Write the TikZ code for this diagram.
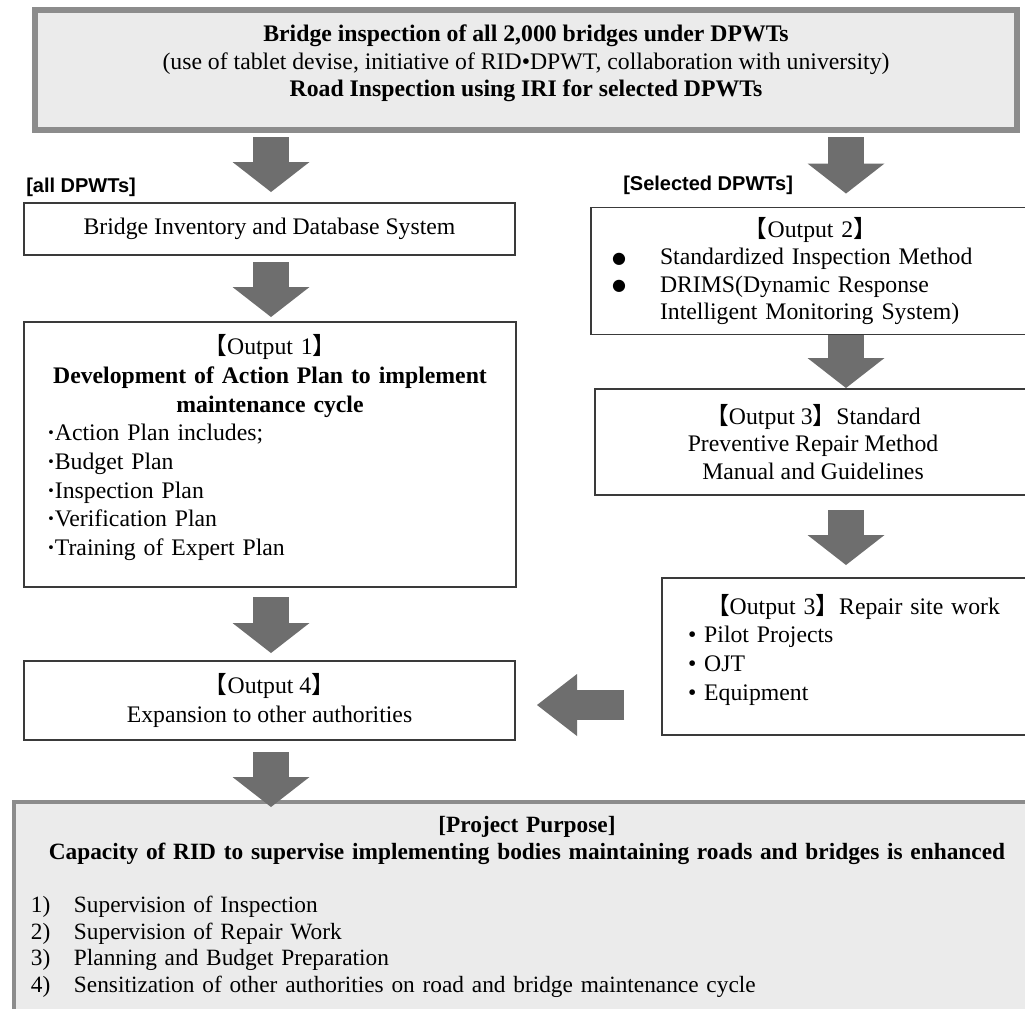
\documentclass[tikz,border=0pt]{standalone}
\usepackage{fontspec}
\setmainfont{Liberation Serif}
\newfontfamily\labelfont{Liberation Sans}
\newfontfamily\cjkfont{Noto Sans CJK JP}
\newfontfamily\symfont{DejaVu Sans}
\usetikzlibrary{arrows.meta,calc}

\definecolor{edgegrey}{HTML}{8C8C8C}
\definecolor{fillgrey}{HTML}{EBEBEB}
\definecolor{arrowgrey}{HTML}{6E6E6E}
\definecolor{boxline}{HTML}{3A3A3A}

\newcommand{\outtag}[1]{{\cjkfont 【}Output #1{\cjkfont 】}}
\newcommand{\dropby}[1]{\rule[-#1]{0pt}{#1}}
\newcommand{\bigdot}{\makebox[36pt][l]{\raisebox{1pt}{\symfont\fontsize{12}{12}\selectfont ●}}}
\newcommand{\plandot}{\textbf{·}}

\begin{document}
\begin{tikzpicture}[x=0.75pt,y=-0.75pt]
    \tikzset{
        box/.style={draw=boxline, line width=1.1pt, fill=white, inner sep=0pt, outer sep=0pt,
                    font=\fontsize{17.8}{21.5}\selectfont},
        greybox/.style={box, draw=edgegrey, fill=fillgrey},
        grouplabel/.style={anchor=west, inner sep=0pt, font=\labelfont\bfseries\fontsize{15}{18}\selectfont},
        blockarrow/.style={draw=arrowgrey, line width=27pt,
                           -{Triangle[length=22.5pt, width=57.75pt, line width=0pt]}},
        sidearrow/.style={draw=arrowgrey, line width=22.5pt,
                          -{Triangle[length=30pt, width=46.5pt, line width=0pt]}}
    }
    \useasboundingbox (0,0) rectangle (1025,1008);
    \clip (0,0) rectangle (1025,1008);
    \fill[white] (0,0) rectangle (1025,1008);

    \coordinate (lcol) at (271,0);
    \coordinate (rcol) at (846,0);

    \node[greybox, line width=4.5pt, minimum width=736.5pt, minimum height=90pt, align=center,
          font=\fontsize{17.8}{20.6}\selectfont] (insp) at (526,70)
        {\textbf{Bridge inspection of all 2,000 bridges under DPWTs}\\
         (use of tablet devise, initiative of RID•DPWT, collaboration with university)\\
         \textbf{Road Inspection using IRI for selected DPWTs}\dropby{14pt}};

    \node[grouplabel] (alllbl) at (26,187) {[all DPWTs]};
    \node[grouplabel] (sellbl) at (623,185) {[Selected DPWTs]};

    % left column
    \node[box, minimum width=368.25pt, minimum height=39pt] (inv) at (269.5,229)
        {Bridge Inventory and Database System};
    \node[box, minimum width=369pt, minimum height=198.75pt, text width=334.5pt, align=left] (out1) at (270,454.5)
        {{\centering\outtag{1}\\
          \textbf{Development of Action Plan to implement}\\
          \textbf{maintenance cycle}\par}
         \plandot Action Plan includes;\\
         \plandot Budget Plan\\
         \plandot Inspection Plan\\
         \plandot Verification Plan\\
         \plandot Training of Expert Plan\dropby{14pt}};
    \node[box, minimum width=368.25pt, minimum height=59.25pt, align=center] (out4) at (269.5,700.5)
        {\outtag{4}\\ Expansion to other authorities};

    % right column
    \node[box, minimum width=329.25pt, minimum height=95.25pt, text width=297.75pt, align=left,
          font=\fontsize{17.8}{20.5}\selectfont] (out2) at (810.5,271)
        {{\centering\outtag{2}\par}
         \bigdot Standardized Inspection Method\\
         \bigdot DRIMS(Dynamic Response\\
         \hspace*{36pt}Intelligent Monitoring System)};
    \node[box, minimum width=327pt, minimum height=79.5pt, align=center,
          font=\fontsize{17.8}{20.3}\selectfont] (out3) at (813,442)
        {\outtag{3}Standard\\ Preventive Repair Method\\ Manual and Guidelines};
    \node[box, minimum width=286.5pt, minimum height=117.75pt, text width=247.5pt, align=left] (out3b) at (853,656.5)
        {{\centering\outtag{3}Repair site work\par}
         • Pilot Projects\\
         • OJT\\
         • Equipment\dropby{14pt}};

    % purpose
    \node[greybox, line width=3pt, minimum width=769.5pt, minimum height=157.5pt, text width=744pt, align=left,
          font=\fontsize{17.5}{20}\selectfont] (purpose) at (527,907)
        {{\centering\textbf{[Project Purpose]}\\
          \textbf{Capacity of RID to supervise implementing bodies maintaining roads and bridges is enhanced}\par}
         \vspace{20pt}
         \makebox[32.25pt][l]{1)}Supervision of Inspection\\
         \makebox[32.25pt][l]{2)}Supervision of Repair Work\\
         \makebox[32.25pt][l]{3)}Planning and Budget Preparation\\
         \makebox[32.25pt][l]{4)}Sensitization of other authorities on road and bridge maintenance cycle};

    % arrows
    \draw[blockarrow] ($(lcol |- insp.south)+(0,7)$) -- ($(lcol |- inv.north)+(0,-11)$);
    \draw[blockarrow] ($(lcol |- inv.south)+(0,7)$) -- ($(lcol |- out1.north)+(0,-5)$);
    \draw[blockarrow] ($(lcol |- out1.south)+(0,10)$) -- ($(lcol |- out4.north)+(0,-8)$);
    \draw[blockarrow] ($(lcol |- out4.south)+(0,12)$) -- ($(lcol |- purpose.north)+(0,5)$);
    \draw[blockarrow] ($(rcol |- insp.south)+(0,7)$) -- ($(rcol |- out2.north)+(0,-14)$);
    \draw[blockarrow] (rcol |- out2.south) -- ($(rcol |- out3.north)+(0,-1)$);
    \draw[blockarrow] ($(rcol |- out3.south)+(0,15)$) -- ($(rcol |- out3b.north)+(0,-13)$);
    \draw[sidearrow] ($(out3b.west |- out4.east)+(-38,4.5)$) -- ($(out4.east)+(22,4.5)$);
\end{tikzpicture}
\end{document}
